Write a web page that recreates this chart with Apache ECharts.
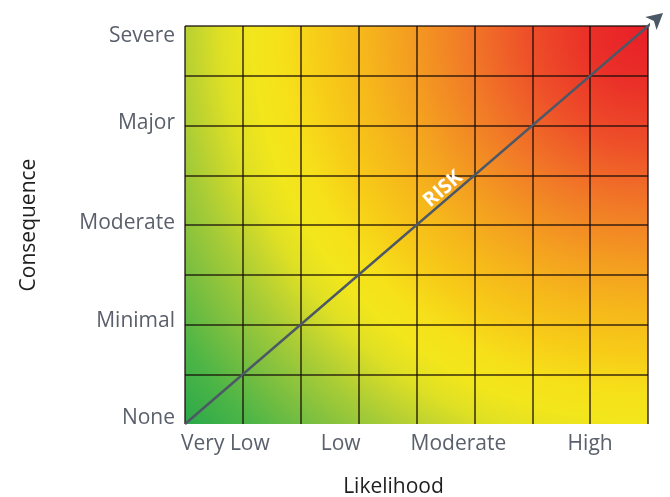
<!DOCTYPE html>
<html><head><meta charset="utf-8">
<script src="https://cdn.jsdelivr.net/npm/echarts@6/dist/echarts.min.js"></script>
<style>html,body{margin:0;padding:0;background:#fff}#c{width:670px;height:497px}</style>
</head><body><div id="c"></div>
<script>
// ---- data ----
const xLabels = ['Very Low', 'Low', 'Moderate', 'High'];
const yLabels = ['None', 'Minimal', 'Moderate', 'Major', 'Severe'];
const gridMin = 0;
const gridMax = 8;
const riskLine = [[0, 0], [8.26, 8.26]];
const riskLabelText = 'RISK';
const riskLabelPos = [4.46, 4.72];
const xAxisName = 'Likelihood';
const yAxisName = 'Consequence';
// colour ramp from the top-right corner (red) to the bottom-left corner (green)
const rampOffsets = [0.00, 0.10, 0.20, 0.30, 0.40, 0.47, 0.54, 0.60, 0.65, 0.70, 0.74, 0.78, 0.85, 0.92, 1.00];
const rampColors = ['#e81e28', '#ea3028', '#ee5029', '#f17a27', '#f4a020', '#f6b81b', '#f7cc18', '#f6e01a', '#f2e61c', '#dfe024', '#c4d52e', '#a8cc36', '#7cbf40', '#4db546', '#2aa94a'];

// ---- chart ----
const labelColor = '#5a606b';
const labelFont = 'Open Sans';
const bg = new echarts.graphic.RadialGradient(1, 0, 610 / 398,
  rampOffsets.map((o, i) => ({ offset: o, color: rampColors[i] })));

const yRich = {};
const yPads = { 0: [0, 0, 12, 0], 2: [0, 0, 6, 0], 4: [0, 0, 4, 0], 6: [0, 0, 4, 0], 8: [20, 0, 0, 0] };
Object.keys(yPads).forEach(k => {
  yRich['y' + k] = { padding: yPads[k], fontSize: 21, color: labelColor, fontFamily: labelFont };
});
const xPads = [[0, 35, 0, 0], [0, 36, 0, 0], [0, 32, 0, 0], [0, 0, 0, 0]];
const xRich = {};
xPads.forEach((p, i) => { xRich['x' + i] = { padding: p, fontSize: 21, color: labelColor, fontFamily: labelFont }; });

const chart = echarts.init(document.getElementById('c'), null, { renderer: 'canvas' });
chart.setOption({
  animation: false,
  backgroundColor: '#ffffff',
  grid: { left: 185, right: 22, top: 26, bottom: 73, show: true, backgroundColor: bg, borderWidth: 0, containLabel: false, outerBoundsMode: 'none' },
  xAxis: [
    {
      type: 'value', min: gridMin, max: gridMax, interval: 1,
      axisLine: { show: false }, axisTick: { show: false }, axisLabel: { show: false },
      splitLine: { show: true, showMinLine: true, showMaxLine: true, lineStyle: { color: 'rgba(25,12,8,0.85)', width: 1.5 } }
    },
    {
      type: 'category', position: 'bottom', data: xLabels, boundaryGap: true,
      axisLine: { show: false }, axisTick: { show: false }, splitLine: { show: false },
      axisLabel: {
        margin: 10,
        formatter: (v, i) => '{x' + i + '|' + v + '}',
        rich: xRich
      },
      name: xAxisName, nameLocation: 'middle', nameGap: 53,
      nameTextStyle: { fontSize: 21, color: '#1e1e1e', fontFamily: labelFont, padding: [0, 46, 0, 0] }
    }
  ],
  yAxis: {
    type: 'value', min: gridMin, max: gridMax, interval: 1,
    axisLine: { show: false }, axisTick: { show: false },
    splitLine: { show: true, showMinLine: false, showMaxLine: true, lineStyle: { color: 'rgba(25,12,8,0.85)', width: 1.5 } },
    axisLabel: {
      margin: 10,
      formatter: v => (v % 2 === 0 ? '{y' + v + '|' + yLabels[v / 2] + '}' : ''),
      rich: yRich
    },
    name: yAxisName, nameLocation: 'middle', nameGap: 145, nameRotate: 90,
    nameTextStyle: { fontSize: 21, color: '#1e1e1e', fontFamily: labelFont }
  },
  series: [{
    type: 'line',
    xAxisIndex: 0, yAxisIndex: 0,
    clip: false,
    data: riskLine.map((p, i) => i === riskLine.length - 1
      ? { value: p, symbol: 'arrow', symbolSize: [13, 16], symbolRotate: -49.3 }
      : { value: p, symbol: 'none' }),
    showSymbol: true,
    lineStyle: { color: '#4c5866', width: 2.5 },
    itemStyle: { color: '#4c5866' },
    markPoint: {
      silent: true,
      symbol: 'circle', symbolSize: 1,
      itemStyle: { color: 'rgba(0,0,0,0)' },
      data: [{ coord: riskLabelPos, value: riskLabelText }],
      label: {
        show: true, position: 'inside', formatter: riskLabelText, rotate: 40.7,
        color: '#ffffff', fontWeight: 'bold', fontSize: 20, fontFamily: labelFont
      }
    }
  }]
});
</script></body></html>
